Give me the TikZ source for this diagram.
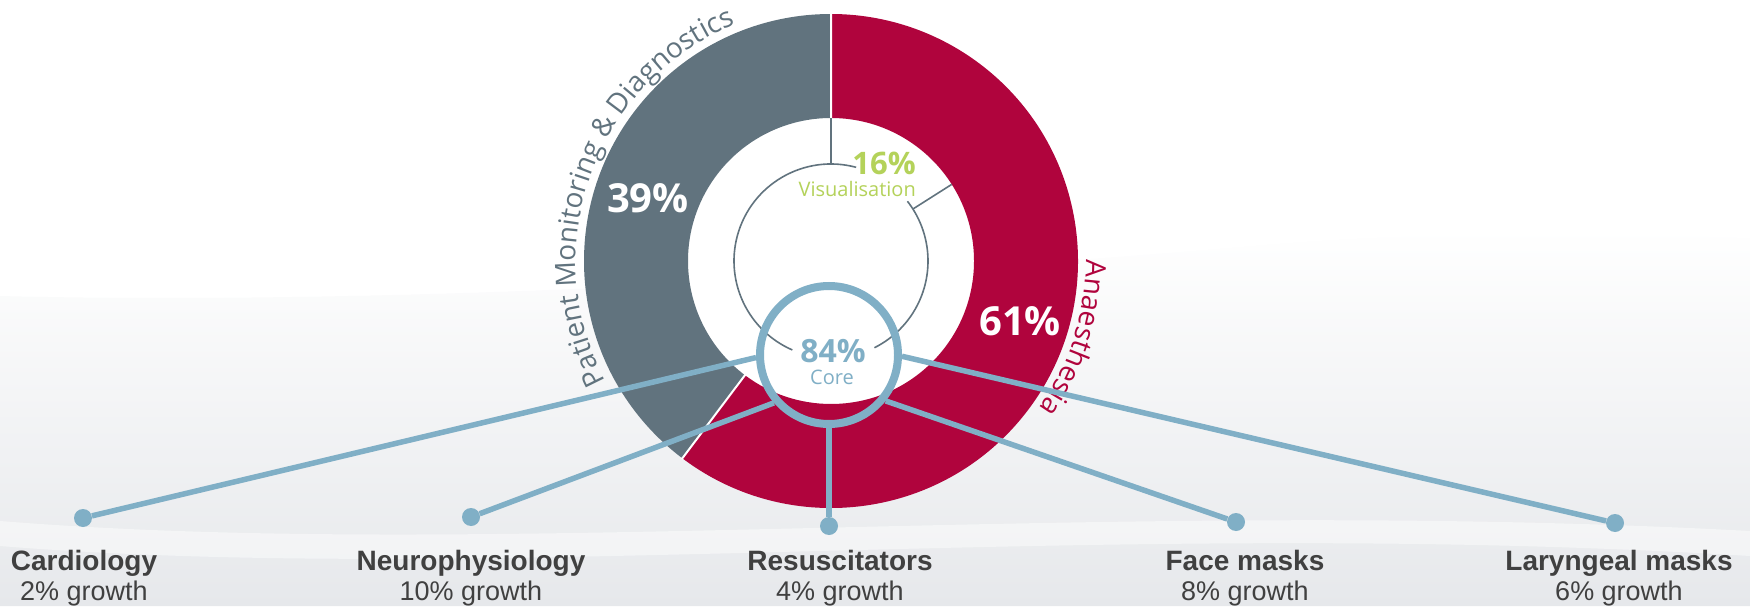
\documentclass[tikz,border=0pt]{standalone}
\usepackage{fontspec}
\setmainfont{Open Sans}
\newfontfamily\arialfont{Liberation Sans}
\usetikzlibrary{decorations.text}
\definecolor{pmdgray}{HTML}{61737E}
\definecolor{anred}{HTML}{B0043D}
\definecolor{lineblue}{HTML}{80AFC6}
\definecolor{visgreen}{HTML}{B4D25A}
\definecolor{labgray}{HTML}{404040}
\definecolor{bgA}{HTML}{E6E8EB}
\tikzset{
  pct/.style={text=white, font=\bfseries\fontsize{40}{40}\selectfont, inner sep=0pt, anchor=base},
  conn/.style={draw=lineblue, line width=5.5pt},
  dotnode/.style={circle, fill=lineblue, minimum size=18pt, inner sep=0pt},
  catlab/.style={font=\arialfont\bfseries\fontsize{28}{28}\selectfont, text=labgray, anchor=base, inner sep=0pt},
  growlab/.style={font=\arialfont\fontsize{27}{27}\selectfont, text=labgray, anchor=base, inner sep=0pt},
  visline/.style={draw=pmdgray, line width=1.6pt},
}
\begin{document}
\begin{tikzpicture}[x=1pt,y=1pt]
\useasboundingbox (0,0) rectangle (1750,606);
% background swoosh
\shade[top color=white, bottom color=bgA] (0,0) -- (0,310) .. controls (400,300) and (900,330) .. (1250,360) .. controls (1450,378) and (1650,372) .. (1750,368) -- (1750,0) -- cycle;
\fill[white, opacity=0.45] (0,60) .. controls (500,20) and (1100,90) .. (1750,50) -- (1750,75) .. controls (1100,110) and (500,45) .. (0,85) -- cycle;
% donut
\begin{scope}[shift={(831,345)}]
  \fill[white] (0,0) circle[radius=143];
  \fill[pmdgray] (90:247) arc[start angle=90, end angle=233, radius=247] -- (233:143) arc[start angle=233, end angle=90, radius=143] -- cycle;
  \fill[anred] (233:247) arc[start angle=233, end angle=450, radius=247] -- (90:143) arc[start angle=90, end angle=-127, radius=143] -- cycle;
  \draw[white, line width=2pt] (90:142) -- (90:248) (233:142) -- (233:248);
  % visualisation ring
  \draw[visline] (75:97) arc[start angle=75, end angle=246.5, radius=97];
  \draw[visline] (38:97) arc[start angle=38, end angle=-63.4, radius=97];
  \draw[visline] (90:97) -- (90:143);
  \draw[visline] (32.4:97) -- (32.4:143);
  % curved labels
  \path[decorate, decoration={text along path, text align=center,
     text={|\fontsize{28}{28}\selectfont\color{pmdgray}|Patient Monitoring {\&} Diagnostics}}]
     (221:255) arc[start angle=221, end angle=99, radius=255];
  \path[decorate, decoration={text along path, text align=center,
     text={|\fontsize{28}{28}\selectfont\color{anred}|Anaesthesia}}]
     (10:255) arc[start angle=10, end angle=-45, radius=255];
\end{scope}
% percentages
\node[pct] (p39) at (648,393) {39\%};
\node[pct] (p61) at (1020,271) {61\%};
\node[text=visgreen, font=\bfseries\fontsize{31}{31}\selectfont, anchor=base east, inner sep=0pt] (p16) at (916,431) {16\%};
\node[text=visgreen, font=\fontsize{20}{20}\selectfont, anchor=base east, inner sep=0pt] (vis) at (916,409) {Visualisation};
% core
\node[circle, draw=lineblue, line width=8pt, minimum size=138pt, inner sep=0pt] (core) at (829,251) {};
\node[text=lineblue, font=\bfseries\fontsize{32}{32}\selectfont, anchor=base, inner sep=0pt] (p84) at (833,244) {84\%};
\node[text=lineblue, font=\fontsize{20}{20}\selectfont, anchor=base, inner sep=0pt] (coretxt) at (832,222) {Core};
% dots
\node[dotnode] (d1) at (83,88) {};
\node[dotnode] (d2) at (471,89) {};
\node[dotnode] (d3) at (829,80) {};
\node[dotnode] (d4) at (1236,84) {};
\node[dotnode] (d5) at (1615,83) {};
% connectors
\draw[conn] (core.182) -- (d1);
\draw[conn] (core.221) -- (d2);
\draw[conn] (core.270) -- (d3);
\draw[conn] (core.-39) -- (d4);
\draw[conn] (core.-1) -- (d5);
% labels
\node[catlab] (l1) at (84,36) {Cardiology};
\node[growlab] (g1) at (84,6) {2\% growth};
\node[catlab] (l2) at (471,36) {Neurophysiology};
\node[growlab] (g2) at (471,6) {10\% growth};
\node[catlab] (l3) at (840,36) {Resuscitators};
\node[growlab] (g3) at (840,6) {4\% growth};
\node[catlab] (l4) at (1245,36) {Face masks};
\node[growlab] (g4) at (1245,6) {8\% growth};
\node[catlab] (l5) at (1619,36) {Laryngeal masks};
\node[growlab] (g5) at (1619,6) {6\% growth};
\end{tikzpicture}
\end{document}
